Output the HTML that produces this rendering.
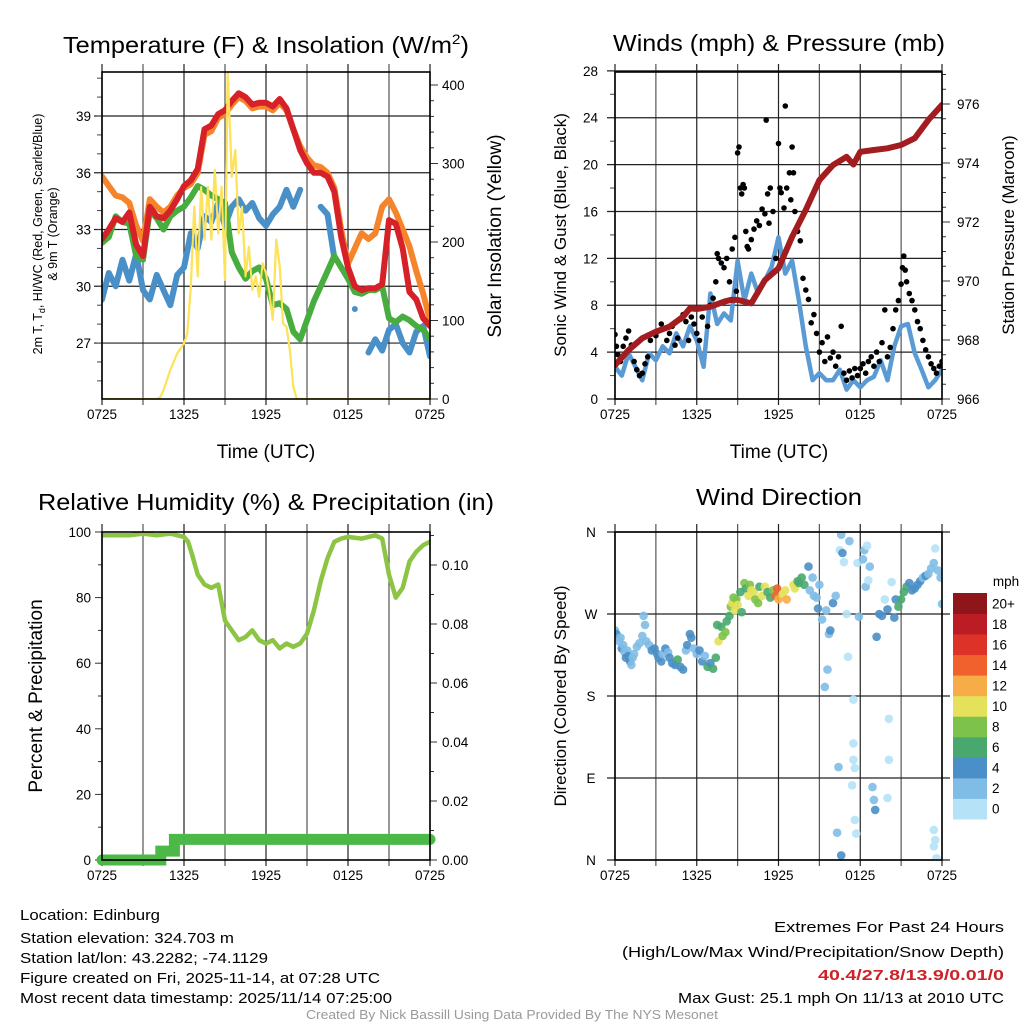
<!DOCTYPE html>
<html><head><meta charset="utf-8">
<style>
html,body{margin:0;padding:0;background:#fff;}
svg{display:block;font-family:"Liberation Sans",Arial,sans-serif;}
</style></head>
<body>
<svg id="chart" width="1024" height="1024" viewBox="0 0 1024 1024" xmlns="http://www.w3.org/2000/svg">
<defs>
<clipPath id="c1"><rect x="102" y="72" width="328" height="327"/></clipPath>
<clipPath id="c2"><rect x="615" y="72" width="327" height="327"/></clipPath>
<clipPath id="c3"><rect x="102" y="532" width="328" height="328"/></clipPath>
<clipPath id="c4"><rect x="615" y="532" width="327" height="328"/></clipPath>
</defs>
<rect width="1024" height="1024" fill="#fff"/>

<text x="266" y="53" font-size="23" text-anchor="middle" textLength="406" lengthAdjust="spacingAndGlyphs">Temperature (F) &amp; Insolation (W/m<tspan font-size="14" dy="-9">2</tspan><tspan dy="9">)</tspan></text>
<text x="779" y="51" font-size="23" text-anchor="middle" textLength="332" lengthAdjust="spacingAndGlyphs">Winds (mph) &amp; Pressure (mb)</text>
<text x="266" y="510" font-size="23" text-anchor="middle" textLength="456" lengthAdjust="spacingAndGlyphs">Relative Humidity (%) &amp; Precipitation (in)</text>
<text x="779" y="505" font-size="23" text-anchor="middle" textLength="166" lengthAdjust="spacingAndGlyphs">Wind Direction</text>

<text transform="translate(42,234) rotate(-90)" font-size="12.5" text-anchor="middle">2m T, T<tspan font-size="9" dy="3">d</tspan><tspan dy="-3">, HI/WC (Red, Green, Scarlet/Blue)</tspan></text>
<text transform="translate(57,234) rotate(-90)" font-size="12.5" text-anchor="middle">&amp; 9m T (Orange)</text>
<text transform="translate(501,236) rotate(-90)" font-size="19" text-anchor="middle">Solar Insolation (Yellow)</text>
<text x="266" y="458" font-size="19" text-anchor="middle">Time (UTC)</text>

<text transform="translate(566,235) rotate(-90)" font-size="17" text-anchor="middle">Sonic Wind &amp; Gust (Blue, Black)</text>
<text transform="translate(1014,235) rotate(-90)" font-size="17" text-anchor="middle">Station Pressure (Maroon)</text>
<text x="779" y="458" font-size="19" text-anchor="middle">Time (UTC)</text>

<text transform="translate(42,696) rotate(-90)" font-size="19" text-anchor="middle">Percent &amp; Precipitation</text>
<text transform="translate(566,696) rotate(-90)" font-size="17" text-anchor="middle">Direction (Colored By Speed)</text>

<g id="grids"></g>
<g id="marks"></g>
<g id="frames"></g>
<g id="colorbar"></g>

<g font-size="15">
<text x="20" y="920" textLength="140" lengthAdjust="spacingAndGlyphs">Location: Edinburg</text>
<text x="20" y="943" textLength="214" lengthAdjust="spacingAndGlyphs">Station elevation: 324.703 m</text>
<text x="20" y="963" textLength="248" lengthAdjust="spacingAndGlyphs">Station lat/lon: 43.2282; -74.1129</text>
<text x="20" y="983" textLength="360" lengthAdjust="spacingAndGlyphs">Figure created on Fri, 2025-11-14, at 07:28 UTC</text>
<text x="20" y="1003" textLength="372" lengthAdjust="spacingAndGlyphs">Most recent data timestamp: 2025/11/14 07:25:00</text>
</g>
<g font-size="15" text-anchor="end">
<text x="1004" y="932" textLength="230" lengthAdjust="spacingAndGlyphs">Extremes For Past 24 Hours</text>
<text x="1004" y="957" textLength="382" lengthAdjust="spacingAndGlyphs">(High/Low/Max Wind/Precipitation/Snow Depth)</text>
<text x="1004" y="980" fill="#cc2229" font-weight="bold" textLength="186" lengthAdjust="spacingAndGlyphs">40.4/27.8/13.9/0.01/0</text>
<text x="1004" y="1003" textLength="326" lengthAdjust="spacingAndGlyphs">Max Gust: 25.1 mph On 11/13 at 2010 UTC</text>
</g>
<text x="512" y="1019" font-size="12.5" fill="#9a9a9a" text-anchor="middle" textLength="412" lengthAdjust="spacingAndGlyphs">Created By Nick Bassill Using Data Provided By The NYS Mesonet</text>
</svg>

<script>
// ---------- data ----------
const xTickLabels = ["0725","1325","1925","0125","0725"];
const tempH = [0,0.5,1,1.5,2,2.5,3,3.5,4,4.5,5,5.5,6,6.5,7,7.5,8,8.5,9,9.5,10,10.5,11,11.5,12,12.5,13,13.5,14,14.5,15,15.5,16,16.5,17,17.5,18,18.5,19,19.5,20,20.5,21,21.5,22,22.5,23,23.5,24];
const tempRed = [32.5,33.0,33.6,33.4,33.9,32.2,31.6,34.2,33.7,33.6,34.0,34.6,35.3,35.6,36.2,38.3,38.5,39.1,39.3,39.8,40.2,40.0,39.6,39.7,39.7,39.5,39.9,39.4,38.3,37.2,36.5,36.0,36.0,35.8,35.0,32.6,31.0,30.0,29.8,29.9,29.9,30.1,33.5,33.3,32.0,29.7,29.3,28.3,27.9];
const tempOrange = [35.8,35.3,34.8,34.7,34.4,33.2,32.4,34.6,34.2,33.9,34.2,34.8,35.2,35.4,36.0,38.0,38.2,38.9,39.1,39.6,40.0,39.8,39.4,39.5,39.5,39.3,39.7,39.3,38.3,37.4,36.8,36.4,36.3,36.0,35.2,33.0,31.2,32.0,32.8,32.5,32.8,34.2,34.6,33.9,33.0,32.1,30.8,29.6,28.2];
const tempGreen = [32.3,32.6,33.7,33.4,33.3,31.6,31.4,34.0,33.6,33.0,33.7,34.0,34.2,34.7,35.3,35.1,34.8,34.6,34.4,31.8,31.0,30.4,30.8,31.0,30.4,29.0,29.1,28.8,27.6,27.2,28.2,29.2,30.0,30.8,31.6,31.0,30.4,29.7,29.6,29.8,29.8,30.0,28.3,28.1,28.4,28.2,27.9,27.7,27.2];
const tempBlue = [29.3,30.7,30.0,31.4,30.3,31.7,29.8,29.3,30.6,29.8,29.0,30.6,31.0,32.8,32.0,33.7,33.4,34.4,33.2,34.2,34.6,34.0,34.4,33.6,33.2,33.8,34.2,35.1,34.2,35.1,null,null,34.2,33.8,31.5,null,null,28.8,null,26.5,27.2,26.6,27.7,28.0,27.0,26.5,27.6,27.9,26.3];
const tempTicks = [27,30,33,36,39];
const solarH = [0,4,4.25,4.5,5,5.5,6,6.25,6.5,6.75,7,7.25,7.5,7.75,8,8.25,8.5,8.75,9,9.2,9.5,9.75,10,10.25,10.5,10.75,11,11.25,11.5,11.75,12,12.25,12.5,12.75,13,13.25,13.5,13.75,14,14.25,24];
const solarV = [0,0,2,11,37,58,71,84,143,245,156,270,203,270,203,292,211,270,152,420,283,317,211,245,156,194,139,156,130,173,160,135,101,203,169,96,92,62,16,0,0];
const solarTicks = [0,100,200,300,400];

const windH = [0,0.5,1,1.5,2,2.5,3,3.5,4,4.5,5,5.5,6,6.5,7,7.5,8,8.5,9,9.5,10,10.5,11,11.5,12,12.5,13,13.5,14,14.5,15,15.5,16,16.5,17,17.5,18,18.5,19,19.5,20,20.5,21,21.5,22,22.5,23,23.5,24];
const windV = [2.75,2.0,3.9,2.75,1.6,3.9,3.3,4.5,3.9,5.6,4.5,6.2,5.0,2.75,9.0,6.4,7.3,6.7,11.8,8.4,10.7,9.0,10.1,11.3,13.8,10.7,11.8,8.4,4.5,1.6,2.2,1.6,1.6,2.5,0.8,1.6,1.0,1.6,1.9,3.3,1.6,4.5,6.2,6.4,3.9,2.5,1.0,1.6,2.5];
const gustH = [0,0.1,0.2,0.4,0.6,0.8,1.0,1.2,1.4,1.6,1.8,2.0,2.2,2.4,2.6,2.8,3.0,3.2,3.4,3.6,3.8,4.0,4.2,4.4,4.6,4.8,5.0,5.2,5.4,5.6,5.8,6.0,6.2,6.4,6.6,6.8,7.0,7.2,7.4,7.5,7.6,7.8,8.0,8.2,8.4,8.6,8.8,8.9,9.0,9.1,9.2,9.3,9.4,9.5,9.6,9.7,9.8,10.0,10.2,10.4,10.6,10.8,11.0,11.1,11.2,11.3,11.4,11.6,11.8,12.0,12.1,12.2,12.4,12.5,12.6,12.8,12.9,13.0,13.1,13.2,13.4,13.6,13.8,14.0,14.2,14.4,14.6,14.8,15.0,15.2,15.4,15.6,15.8,16.0,16.2,16.4,16.6,16.8,17.0,17.2,17.4,17.6,17.8,18.0,18.2,18.4,18.6,18.8,19.0,19.2,19.4,19.6,19.8,20.0,20.2,20.4,20.6,20.8,21.0,21.1,21.2,21.3,21.4,21.6,21.8,22.0,22.2,22.4,22.6,22.8,23.0,23.2,23.4,23.6,23.8,24.0];
const gustV = [5.5,4.5,3.8,3.2,4.5,5.2,5.8,4.6,3.2,2.5,2.0,2.2,3.0,3.6,5.0,5.6,5.4,5.8,6.4,6.0,5.0,5.6,6.2,4.6,5.2,6.8,7.2,6.6,5.0,7.0,6.4,5.6,5.0,7.0,7.8,6.2,8.0,8.6,10.0,12.4,12.0,11.6,11.2,12.0,10.0,12.8,13.8,9.2,21.0,21.5,18.0,17.5,18.3,18.0,14.3,13.0,12.8,13.6,14.5,15.2,14.8,16.2,15.8,23.8,17.5,15.0,18.0,16.0,12.0,21.8,18.0,17.6,16.3,25.0,18.0,19.3,17.0,21.5,19.3,16.0,14.3,13.5,10.3,9.3,8.5,6.5,7.2,5.6,4.0,4.8,3.2,5.3,3.5,4.0,2.8,3.6,6.2,2.2,1.6,2.4,1.8,2.6,2.0,2.6,3.0,2.2,3.2,3.6,2.8,4.0,3.2,4.8,7.6,3.6,4.4,6.0,7.6,8.4,9.8,11.2,12.2,11.0,10.0,9.0,8.4,7.6,6.6,6.0,5.0,4.2,3.6,3.0,2.6,2.2,2.8,3.2];
const presH = [0,1,2,3,4,5,5.5,6,7,8,8.5,9,10,11,12,13,14,15,16,17,17.5,18,19,20,21,22,23,24];
const presV = [967.15,967.66,968.06,968.28,968.45,968.79,969.07,969.05,969.13,969.3,969.36,969.36,969.24,970.03,970.43,971.5,972.41,973.42,973.93,974.21,973.95,974.38,974.44,974.5,974.61,974.84,975.46,975.97];
const windTicks = [0,4,8,12,16,20,24,28];
const presTicks = [966,968,970,972,974,976];

const rhH = [0,2,3,4,5,6,6.3,6.6,7,7.5,8,8.5,9,9.5,10,10.5,11,11.5,12,12.5,13,13.5,14,14.5,15,15.5,16,16.5,17,17.5,18,19,20,20.5,21,21.5,22,22.5,23,23.5,24];
const rhV = [99,99,99.5,99,99.5,98.5,97,93,87,84,83,84,73,70,67,68,70,67,66,67,64.5,66,65,66,69,76,85,92,97,98,98.5,98,99,98,87,80,83,91,94,96,97];
const precipH = [0,4.3,4.3,5.3,5.3,24];
const precipV = [0,0,0.003,0.003,0.007,0.007];
const rhTicks = [0,20,40,60,80,100];
const precipTicks = ["0.00","0.02","0.04","0.06","0.08","0.10"];

const dirH = [0,0.1,0.3,0.4,0.5,0.6,0.7,0.8,0.9,1.0,1.1,1.2,1.3,1.4,1.6,1.8,2.0,2.1,2.2,2.3,2.5,2.7,2.9,3.1,3.2,3.4,3.5,3.7,3.9,4.0,4.2,4.4,4.6,4.8,5.0,5.2,5.3,5.5,5.6,5.8,6.0,6.2,6.4,6.6,6.8,7.0,7.2,7.4,
7.5,7.6,7.8,7.9,8.1,8.2,8.4,8.5,8.6,8.7,8.8,8.9,9.0,9.2,9.3,9.5,9.6,9.8,9.9,10.0,10.2,10.3,10.5,10.6,10.8,11.0,11.2,11.4,11.6,11.8,11.9,12.0,12.3,12.5,12.6,13.1,13.2,13.4,13.5,13.7,13.9,
14.2,14.3,14.5,14.6,14.8,14.9,15.0,15.2,15.4,15.5,15.6,15.7,15.8,16.0,16.2,16.4,16.3,16.5,16.6,16.7,16.6,16.8,17.0,17.1,17.2,17.4,17.5,17.5,17.5,17.6,17.6,17.7,17.8,17.9,18.2,18.3,18.4,18.5,18.6,18.7,18.9,19.0,19.1,19.2,19.4,19.6,19.8,20.0,20.1,20.1,20.0,20.3,20.5,20.6,20.8,21.0,21.2,21.4,21.6,21.8,22.0,22.2,22.4,22.6,22.8,23.0,23.2,23.4,23.5,23.7,23.9,24.0,23.4,23.5,23.4,23.6];
const dirDeg = [252,248,240,244,232,236,228,222,230,224,218,214,222,226,234,238,246,268,258,240,236,230,232,226,222,218,226,232,228,222,216,214,220,212,209,230,236,248,244,232,226,230,218,224,212,216,210,222,
258,240,256,246,250,262,268,278,282,288,274,286,280,294,272,304,298,290,302,296,294,286,282,300,290,300,294,288,296,290,298,286,292,296,286,302,298,306,304,310,302,
322,296,310,290,288,276,302,264,190,274,209,248,252,282,290,102,30,340,357,337,5,327,270,223,350,82,176,128,110,101,44,29,326,267,330,340,300,345,307,322,80,66,55,245,270,268,286,275,155,110,68,305,266,286,278,286,294,300,304,296,298,302,306,310,312,314,320,326,342,318,310,281,33,22,15,2];
const dirSpd = [3,4,2,3,4,2,3,4,3,4,4,3,2,3,2,2,2,2,2,2,3,4,4,4,4,4,3,4,2,4,4,5,6,5,4,3,4,5,4,3,2,4,4,3,6,5,6,7,
7,10,7,9,8,7,7,8,10,9,11,8,10,7,7,9,6,11,8,10,11,9,8,7,10,10,6,6,9,14,15,13,11,11,12,11,10,7,6,7,6,
4,3,2,3,2,4,2,3,2,3,3,3,4,4,2,2,3,1,2,4,4,1,0,1,2,1,0,1,1,1,1,1,1,3,2,2,3,1,1,2,3,2,4,4,4,4,1,4,1,1,1,1,4,4,6,6,7,6,5,4,4,4,4,3,4,3,3,2,1,2,2,3,1,1,1,1];
const dirTickLabels = ["N","E","S","W","N"];
const speedLabels = ["0","2","4","6","8","10","12","14","16","18","20+"];
const speedColors = ["#b6e2f7","#7fbce6","#4a8fc7","#48a86e","#7dc24b","#e6e15a","#f6ad48","#f0612d","#dc3227","#bc1c24","#8e1519"];

// ---------- scales ----------
const X1 = h => 102 + h * (328 / 24);
const X2 = h => 615 + h * (327 / 24);
const yT = t => 116 + (39 - t) * 18.92;
const yS = s => 399 - s * 0.785;
const yW = v => 399 - v * 11.72;
const yP = p => 399 - (p - 966) * 29.5;
const yR = r => 860 - r * 3.28;
const yPr = p => 860 - p * 2950;
const yD = d => 860 - d * 328 / 360;

const NS = "http://www.w3.org/2000/svg";
const grids = document.getElementById('grids');
const marks = document.getElementById('marks');
const frames = document.getElementById('frames');
const cbar = document.getElementById('colorbar');

function line(parent, x1, y1, x2, y2, stroke, w) {
  const l = document.createElementNS(NS, 'line');
  l.setAttribute('x1', x1); l.setAttribute('y1', y1);
  l.setAttribute('x2', x2); l.setAttribute('y2', y2);
  l.setAttribute('stroke', stroke); l.setAttribute('stroke-width', w);
  parent.appendChild(l);
  return l;
}
function text(parent, x, y, s, anchor, size) {
  const t = document.createElementNS(NS, 'text');
  t.setAttribute('x', x); t.setAttribute('y', y);
  t.setAttribute('text-anchor', anchor); t.setAttribute('font-size', size);
  t.textContent = s;
  parent.appendChild(t);
  return t;
}
function pathFrom(xs, ys, fx, fy) {
  let d = '', pen = false;
  for (let i = 0; i < xs.length; i++) {
    if (ys[i] === null) { pen = false; continue; }
    d += (pen ? 'L' : 'M') + fx(xs[i]).toFixed(1) + ',' + fy(ys[i]).toFixed(1);
    pen = true;
  }
  return d;
}
function addPath(parent, d, stroke, w, clip) {
  const p = document.createElementNS(NS, 'path');
  p.setAttribute('d', d); p.setAttribute('fill', 'none');
  p.setAttribute('stroke', stroke); p.setAttribute('stroke-width', w);
  p.setAttribute('stroke-linejoin', 'round'); p.setAttribute('stroke-linecap', 'round');
  p.setAttribute('clip-path', 'url(#' + clip + ')');
  parent.appendChild(p);
  return p;
}

// ---------- panel axes ----------
function timeAxis(X, y0, y1, labelY) {
  for (let k = 0; k <= 8; k++) {
    const x = X(k * 3);
    const g = line(grids, x, y0 - 8, x, y1 + 6, k % 2 ? '#555' : '#222', 1.2);
    
    
  }
  for (let k = 0; k < xTickLabels.length; k++) {
    const t = text(grids, X(k * 6), labelY, xTickLabels[k], 'middle', 13.5);
    
    
  }
}
function frame(x0, y0, x1, y1) {
  const r = document.createElementNS(NS, 'rect');
  r.setAttribute('x', x0); r.setAttribute('y', y0);
  r.setAttribute('width', x1 - x0); r.setAttribute('height', y1 - y0);
  r.setAttribute('fill', 'none'); r.setAttribute('stroke', '#000'); r.setAttribute('stroke-width', 1.6);
  frames.appendChild(r);
  
  
}

// Panel 1
timeAxis(X1, 72, 399, 419);
for (const t of tempTicks) {
  const g = line(grids, 94, yT(t), 430, yT(t), '#222', 1.2);
  
  
  const lb = text(grids, 91, yT(t) + 5, String(t), 'end', 13.5);
  
  
}
for (let t = 25; t <= 41; t++) {
  const m = line(grids, 97, yT(t), 102, yT(t), '#444', 1);
  
  
}
for (let s = 0; s <= 400; s += 20) {
  const big = s % 100 === 0;
  const m = line(grids, 430, yS(s), big ? 438 : 434, yS(s), '#333', 1);
  
  
}
for (const s of solarTicks) {
  const lb = text(grids, 442, yS(s) + 5, String(s), 'start', 13.5);
  
  
}
frame(102, 72, 430, 399);

// Panel 2
timeAxis(X2, 72, 399, 419);
for (const v of windTicks) {
  const g = line(grids, 607, yW(v), 942, yW(v), '#222', 1.2);
  
  
  const lb = text(grids, 598, yW(v) + 5, String(v), 'end', 13.5);
  
  
}
for (let v = 2; v <= 26; v += 4) {
  const m = line(grids, 610, yW(v), 615, yW(v), '#444', 1);
  
  
}
for (let p = 966; p <= 977; p += 0.5) {
  const big = Math.abs(p % 2) < 0.01;
  const m = line(grids, 942, yP(p), big ? 950 : 946, yP(p), '#333', 1);
  
  
}
for (const p of presTicks) {
  const lb = text(grids, 957, yP(p) + 5, String(p), 'start', 13.5);
  
  
}
frame(615, 72, 942, 399);

// Panel 3
timeAxis(X1, 532, 860, 880);
for (let r = 0; r <= 100; r += 10) {
  const big = r % 20 === 0;
  const m = line(grids, big ? 95 : 98, yR(r), 102, yR(r), '#333', 1);
  
  
}
for (const r of rhTicks) {
  const lb = text(grids, 91, yR(r) + 5, String(r), 'end', 13.5);
  
  
}
for (let k = 0; k <= 11; k++) {
  const p = k * 0.01;
  const m = line(grids, 430, yPr(p), k % 2 ? 434 : 437, yPr(p), '#333', 1);
  
  
}
for (const p of precipTicks) {
  const lb = text(grids, 442, yPr(parseFloat(p)) + 5, p, 'start', 13.5);
  
  
}
frame(102, 532, 430, 860);

// Panel 4
timeAxis(X2, 532, 860, 880);
for (let k = 0; k < dirTickLabels.length; k++) {
  const d = k * 90;
  const g = line(grids, 607, yD(d), 950, yD(d), '#222', 1.2);
  
  
  const lb = text(grids, 591, yD(d) + 5, dirTickLabels[k], 'middle', 13.5);
  
  
}
frame(615, 532, 942, 860);

// ---------- marks ----------
const pY = addPath(marks, pathFrom(solarH, solarV, X1, yS), '#fde35c', 2.2, 'c1');


const pO = addPath(marks, pathFrom(tempH, tempOrange, X1, yT), '#f5842b', 6, 'c1');


const pB = addPath(marks, pathFrom(tempH, tempBlue, X1, yT), '#4a90c8', 6, 'c1');


for (let i = 0; i < tempH.length; i++) {
  const prev = i > 0 ? tempBlue[i - 1] : null, next = i < tempH.length - 1 ? tempBlue[i + 1] : null;
  if (tempBlue[i] !== null && prev === null && next === null) {
    const c = document.createElementNS(NS, 'circle');
    c.setAttribute('cx', X1(tempH[i])); c.setAttribute('cy', yT(tempBlue[i])); c.setAttribute('r', 3);
    c.setAttribute('fill', '#4a90c8');
    marks.appendChild(c);
    
    
  }
}
const pG = addPath(marks, pathFrom(tempH, tempGreen, X1, yT), '#48ad3f', 6, 'c1');


const pR = addPath(marks, pathFrom(tempH, tempRed, X1, yT), '#d62128', 6, 'c1');


const pY2 = addPath(marks, pathFrom(solarH, solarV, X1, yS), '#fde35c', 2, 'c1');



const pW = addPath(marks, pathFrom(windH, windV, X2, yW), '#5b9bd5', 4.5, 'c2');


for (let i = 0; i < gustH.length; i++) {
  const c = document.createElementNS(NS, 'circle');
  c.setAttribute('cx', X2(gustH[i]).toFixed(1)); c.setAttribute('cy', yW(gustV[i]).toFixed(1));
  c.setAttribute('r', 2.8); c.setAttribute('fill', '#000');
  c.setAttribute('clip-path', 'url(#c2)');
  marks.appendChild(c);
  
  
}
const pP = addPath(marks, pathFrom(presH, presV, X2, yP), '#a31c1f', 6, 'c2');



let pd = '';
for (let i = 0; i < precipH.length; i++) pd += (i ? 'L' : 'M') + X1(precipH[i]).toFixed(1) + ',' + yPr(precipV[i]).toFixed(1);
const pPr = addPath(marks, pd, '#4cb848', 11, 'c3');
pPr.setAttribute('clip-path', '');
pPr.setAttribute('stroke-linejoin', 'miter');


const pRH = addPath(marks, pathFrom(rhH, rhV, X1, yR), '#8cc443', 4.5, 'c3');



for (let i = 0; i < dirH.length; i++) {
  const idx = Math.min(10, Math.floor(dirSpd[i] / 2));
  const c = document.createElementNS(NS, 'circle');
  c.setAttribute('cx', X2(dirH[i]).toFixed(1)); c.setAttribute('cy', yD(dirDeg[i]).toFixed(1));
  c.setAttribute('r', 4.3); c.setAttribute('fill', speedColors[idx]); c.setAttribute('fill-opacity', 0.9);
  c.setAttribute('clip-path', 'url(#c4)');
  marks.appendChild(c);
  
  
}

const cbTop = 593, cbH = 226, n = speedColors.length, bh = cbH / n;
for (let k = 0; k < n; k++) {
  const r = document.createElementNS(NS, 'rect');
  const y = cbTop + (n - 1 - k) * bh;
  r.setAttribute('x', 953); r.setAttribute('y', y.toFixed(1));
  r.setAttribute('width', 34); r.setAttribute('height', (bh + 0.5).toFixed(1));
  r.setAttribute('fill', speedColors[k]);
  cbar.appendChild(r);
  
  
  const t = text(cbar, 992, y + bh / 2 + 5, speedLabels[k], 'start', 13.5);
  
  
}
const mph = text(cbar, 1006, 586, 'mph', 'middle', 13.5);


</script>
</body></html>
